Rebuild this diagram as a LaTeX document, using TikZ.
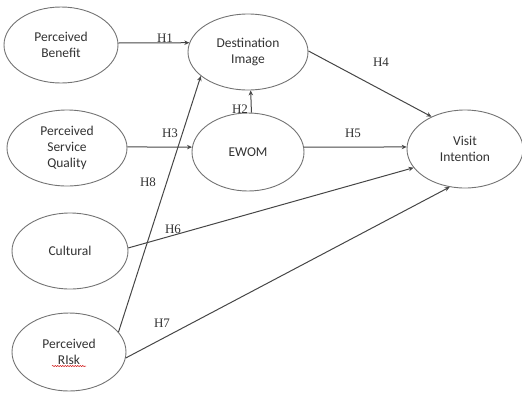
\documentclass[tikz,border=0pt]{standalone}
\usepackage{fontspec}
\setmainfont{Liberation Serif}
\newfontfamily\nodefont{Carlito}
\usetikzlibrary{arrows.meta,shapes.geometric,decorations.pathmorphing}
\definecolor{edgecol}{RGB}{70,70,70}
\definecolor{ringcol}{RGB}{115,115,115}
\definecolor{txtcol}{RGB}{50,50,50}
\begin{document}
\begin{tikzpicture}[x=1pt,y=-1pt,
  construct/.style={ellipse,draw=ringcol,line width=0.9pt,inner sep=0pt,
    text=txtcol,font=\nodefont\fontsize{13.5}{16}\selectfont,align=center},
  link/.style={draw=edgecol,line width=1pt,-{Stealth[length=5pt,width=4.5pt]}},
  hlabel/.style={text=txtcol,font=\fontsize{13}{14}\selectfont,inner sep=0pt}]
\useasboundingbox (0,0) rectangle (522,392);
\node[construct,minimum width=114pt,minimum height=76pt] (pb) at (61,45) {Perceived\\Benefit};
\node[construct,minimum width=120pt,minimum height=76pt] (psq) at (67,148) {Perceived\\Service\\Quality};
\node[construct,minimum width=116pt,minimum height=76pt] (cu) at (70,251) {Cultural};
\node[construct,minimum width=114pt,minimum height=78pt] (pr) at (69,352) {Perceived\\RIsk};
\node[construct,minimum width=120pt,minimum height=76pt] (di) at (248,52) {Destination\\Image};
\node[construct,minimum width=112pt,minimum height=78pt] (ew) at (248,152) {EWOM};
\node[construct,minimum width=116pt,minimum height=78pt] (vi) at (465,149) {Visit\\Intention};
\coordinate (sq1) at (52,366);
\coordinate (sq2) at (86,366);
\draw[red!80!black,line width=0.5pt,decorate,decoration={snake,amplitude=0.6pt,segment length=2.5pt}] (sq1) -- (sq2);
\draw[link] (pb.2) -- (di.171.5);
\draw[link] (ew.85.6) -- (di.274.5);
\draw[link] (psq.1.8) -- (ew.175);
\draw[link] (pr.22.4) -- (di.207);
\draw[link] (di.1.8) -- (vi.136.8);
\draw[link] (ew.5) -- (vi.178);
\draw[link] (cu.3) -- (vi.200);
\draw[link] (pr.-6.8) -- (vi.248);
\node[hlabel] (h1) at (165,38) {H1};
\node[hlabel] (h2) at (240,109) {H2};
\node[hlabel] (h3) at (170,133) {H3};
\node[hlabel] (h4) at (381,62) {H4};
\node[hlabel] (h5) at (353,133) {H5};
\node[hlabel] (h6) at (173,229) {H6};
\node[hlabel] (h7) at (162,323) {H7};
\node[hlabel] (h8) at (148,182) {H8};
\end{tikzpicture}
\end{document}
